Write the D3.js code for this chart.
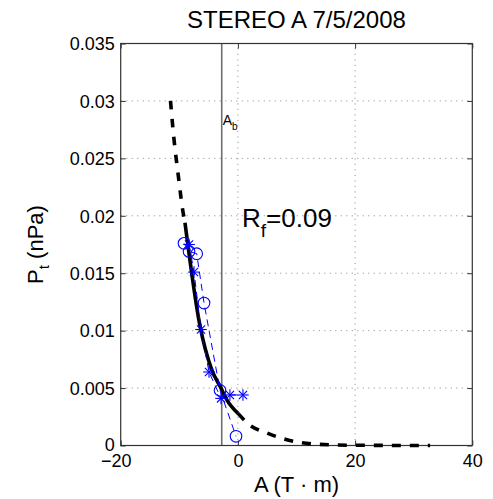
<!DOCTYPE html>
<html>
<head>
<meta charset="utf-8">
<script src="https://cdn.jsdelivr.net/npm/d3@7"></script>
<style>
  html, body { margin: 0; padding: 0; background: #fff; }
  svg { display: block; font-family: "Liberation Sans", Arial, Helvetica, sans-serif; }
</style>
</head>
<body>
<svg id="chart" width="493" height="499"></svg>
<script>
// ---------- data ----------
const titleText = "STEREO A 7/5/2008";
const xDomain = [-20, 40];
const yDomain = [0, 0.035];
const xTicks = [-20, 0, 20, 40];
const xTickLabels = ["\u221220", "0", "20", "40"];
const yTicks = [0, 0.005, 0.01, 0.015, 0.02, 0.025, 0.03, 0.035];
const yTickLabels = ["0", "0.005", "0.01", "0.015", "0.02", "0.025", "0.03", "0.035"];

// measured points, first half (circles)
const circleA = [-9.20, -8.34, -7.03, -5.78, -3.05, -0.32];
const circleP = [0.0176, 0.0169, 0.0167, 0.0124, 0.0048, 0.0008];
// measured points, second half (stars)
const starA = [-8.34, -7.49, -6.30, -4.93, -2.88, -1.36, 0.86];
const starP = [0.0175, 0.0151, 0.0101, 0.0064, 0.0041, 0.0044, 0.0044];

// fitted curve Pt(A): solid over data range, dashed extrapolation
const fitLeftA  = [-11.50, -10.85, -10.10, -9.32, -9.03];
const fitLeftP  = [0.0300, 0.0264, 0.0232, 0.0202, 0.0194];
const fitMidA   = [-9.03, -6.50, -4.47, -2.88, -1.91, 0.02];
const fitMidP   = [0.0194, 0.0105, 0.0066, 0.0050, 0.0040, 0.0028];
const fitRightA = [0.02, 1.90, 4.97, 7.60, 10.60, 13.80, 20.0, 32.8];
const fitRightP = [0.0028, 0.00183, 0.00109, 0.00061, 0.00026, 0.00010, 0.00002, 0.0];

const abValue = -2.76;
const rfValue = "0.09";

// ---------- layout ----------
const L = 120.7, R = 472.3, T = 43.5, B = 445.5;
const svg = d3.select("#chart");
const x = d3.scaleLinear().domain(xDomain).range([L, R]);
const y = d3.scaleLinear().domain(yDomain).range([B, T]);
const blue = "#0000ff";

// grid (dotted) - interior ticks only
const grid = svg.append("g").attr("stroke", "#9a9a9a").attr("stroke-width", 1)
  .attr("stroke-dasharray", "1.2,4.3");
xTicks.filter(t => t > xDomain[0] && t < xDomain[1]).forEach(t => {
  grid.append("line").attr("x1", x(t)).attr("x2", x(t)).attr("y1", B).attr("y2", T);
});
yTicks.filter(t => t > yDomain[0] && t < yDomain[1]).forEach(t => {
  grid.append("line").attr("x1", L).attr("x2", R).attr("y1", y(t)).attr("y2", y(t));
});

// A_b vertical line
svg.append("line").attr("x1", x(abValue)).attr("x2", x(abValue))
  .attr("y1", T).attr("y2", B).attr("stroke", "#6e6e6e").attr("stroke-width", 1.6);

// axes with inward ticks, tick labels styled
const fs = 18;
const axB = svg.append("g").attr("transform", `translate(0,${B})`)
  .call(d3.axisBottom(x).tickValues(xTicks).tickSize(-5).tickPadding(10)
    .tickFormat((d, i) => xTickLabels[i]));
const axL = svg.append("g").attr("transform", `translate(${L},0)`)
  .call(d3.axisLeft(y).tickValues(yTicks).tickSize(-5).tickPadding(6)
    .tickFormat((d, i) => yTickLabels[i]));
const axT = svg.append("g").attr("transform", `translate(0,${T})`)
  .call(d3.axisTop(x).tickValues(xTicks).tickSize(-5).tickFormat(""));
const axR = svg.append("g").attr("transform", `translate(${R},0)`)
  .call(d3.axisRight(y).tickValues(yTicks).tickSize(-5).tickFormat(""));
[axB, axL, axT, axR].forEach(a => {
  a.select(".domain").remove();
  a.selectAll("line").attr("stroke", "#333");
  a.selectAll("text").attr("font-size", fs).attr("fill", "#000")
    .attr("font-family", "'Liberation Sans', Arial, sans-serif");
});
axB.selectAll("text").attr("dy", "0.66em");
// the minus-signed label is set slightly left as in the original
axB.selectAll("text").filter((d) => d < 0).attr("dx", -5);
axL.selectAll("text").attr("dy", "0.35em");
axL.selectAll("text").filter((d) => d === 0).attr("dy", "0.28em");

// box
svg.append("rect").attr("x", L).attr("y", T).attr("width", R - L).attr("height", B - T)
  .attr("fill", "none").attr("stroke", "#333").attr("stroke-width", 1.2);

// fitted curve
const toPts = (A, P) => A.map((a, i) => [a, P[i]]);
const line = d3.line().x(d => x(d[0])).y(d => y(d[1])).curve(d3.curveMonotoneX);
const lineRev = d3.line().x(d => x(d[0])).y(d => y(d[1])).curve(d3.curveMonotoneY);
svg.append("path").attr("d", lineRev(toPts(fitLeftA, fitLeftP)))
  .attr("fill", "none").attr("stroke", "#000").attr("stroke-width", 3.6)
  .attr("stroke-dasharray", "8.5,9.5");
svg.append("path").attr("d", line(toPts(fitMidA, fitMidP)))
  .attr("fill", "none").attr("stroke", "#000").attr("stroke-width", 3.6);
svg.append("path").attr("d", line(toPts(fitRightA, fitRightP)))
  .attr("fill", "none").attr("stroke", "#000").attr("stroke-width", 3.6)
  .attr("stroke-dasharray", "9,9");

// blue dashed connecting lines
const straight = d3.line().x(d => x(d[0])).y(d => y(d[1]));
svg.append("path").attr("d", straight(toPts(circleA, circleP)))
  .attr("fill", "none").attr("stroke", blue).attr("stroke-width", 1)
  .attr("stroke-dasharray", "7,5");
svg.append("path").attr("d", straight(toPts(starA, starP)))
  .attr("fill", "none").attr("stroke", blue).attr("stroke-width", 1)
  .attr("stroke-dasharray", "7,5");

// circle markers
svg.append("g").selectAll("circle").data(toPts(circleA, circleP)).join("circle")
  .attr("cx", d => x(d[0])).attr("cy", d => y(d[1])).attr("r", 5.8)
  .attr("fill", "none").attr("stroke", blue).attr("stroke-width", 1.1);

// star markers
const sr = 5.8, sd = sr * Math.SQRT1_2;
const starG = svg.append("g").selectAll("g").data(toPts(starA, starP)).join("g")
  .attr("transform", d => `translate(${x(d[0])},${y(d[1])})`)
  .attr("stroke", blue).attr("stroke-width", 1.1);
starG.append("line").attr("x1", -sr).attr("x2", sr).attr("y1", 0).attr("y2", 0);
starG.append("line").attr("x1", 0).attr("x2", 0).attr("y1", -sr).attr("y2", sr);
starG.append("line").attr("x1", -sd).attr("x2", sd).attr("y1", -sd).attr("y2", sd);
starG.append("line").attr("x1", -sd).attr("x2", sd).attr("y1", sd).attr("y2", -sd);

// A_b label
const abT = svg.append("text").attr("x", x(abValue) + 1).attr("y", 125)
  .attr("font-size", 14).attr("fill", "#000");
abT.append("tspan").text("A");
abT.append("tspan").attr("font-size", 10).attr("dy", 5).text("b");

// R_f label
const rfT = svg.append("text").attr("x", 242).attr("y", 227)
  .attr("font-size", 26).attr("fill", "#000");
rfT.append("tspan").text("R");
rfT.append("tspan").attr("font-size", 19).attr("dy", 10).text("f");
rfT.append("tspan").attr("dy", -10).text("=" + rfValue);

// title
svg.append("text").attr("x", (L + R) / 2).attr("y", 28).attr("text-anchor", "middle")
  .attr("font-size", 24).attr("fill", "#000").text(titleText);

// x label
svg.append("text").attr("x", (L + R) / 2).attr("y", 492).attr("text-anchor", "middle")
  .attr("font-size", 22).attr("fill", "#000").text("A (T \u00b7 m)");

// y label
const yl = svg.append("text").attr("transform", `translate(43,${(T + B) / 2}) rotate(-90)`)
  .attr("text-anchor", "middle").attr("font-size", 22).attr("fill", "#000");
yl.append("tspan").text("P");
yl.append("tspan").attr("font-size", 15).attr("dy", 6).text("t");
yl.append("tspan").attr("dy", -6).text(" (nPa)");
</script>
</body>
</html>
